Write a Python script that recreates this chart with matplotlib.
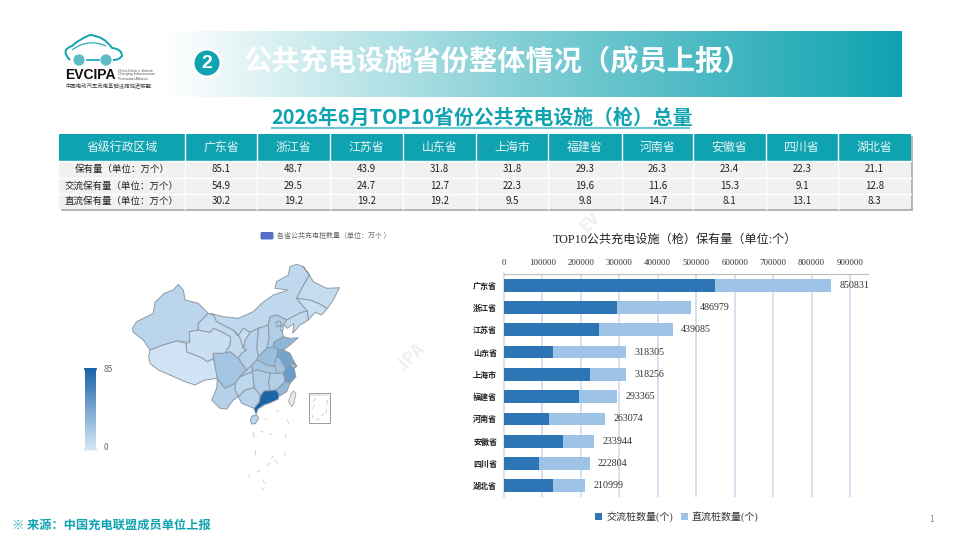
import matplotlib
matplotlib.use('Agg')
import matplotlib.pyplot as plt
import numpy as np
from matplotlib.colors import LinearSegmentedColormap, Normalize
from matplotlib.patches import Circle, FancyBboxPatch, PathPatch, Polygon, Rectangle
from matplotlib.path import Path

plt.rcParams['font.family'] = ['Noto Sans CJK SC', 'DejaVu Sans']

# table data
provinces = ['广东省', '浙江省', '江苏省', '山东省', '上海市', '福建省', '河南省', '安徽省', '四川省', '湖北省']
row_names = ['保有量（单位：万个）', '交流保有量（单位：万个）', '直流保有量（单位：万个）']
total_wan = [85.1, 48.7, 43.9, 31.8, 31.8, 29.3, 26.3, 23.4, 22.3, 21.1]
ac_wan = [54.9, 29.5, 24.7, 12.7, 22.3, 19.6, 11.6, 15.3, 9.1, 12.8]
dc_wan = [30.2, 19.2, 19.2, 19.2, 9.5, 9.8, 14.7, 8.1, 13.1, 8.3]

# bar data
ac_piles = [549000, 295000, 247000, 127000, 223000, 196000, 116000, 153000, 91000, 128000]
dc_piles = [301831, 191979, 192085, 191305, 95256, 97365, 147074, 80944, 131804, 82999]
total_piles = [850831, 486979, 439085, 318305, 318256, 293365, 263074, 233944, 222804, 210999]

# map values (万个), the ones outside the top 10 are estimated from the shade
map_values = {
    '新疆': 11, '西藏': 2, '青海': 4, '甘肃': 8, '内蒙古': 9, '黑龙江': 7, '吉林': 5, '辽宁': 8,
    '河北': 16, '北京': 14, '天津': 10, '山西': 12, '山东': 31.8, '河南': 26.3, '江苏': 43.9, '安徽': 23.4,
    '浙江': 48.7, '上海': 31.8, '福建': 29.3, '江西': 15, '湖北': 21.1, '湖南': 16, '广东': 85.1, '广西': 13,
    '贵州': 10, '云南': 14, '四川': 22.3, '重庆': 13, '陕西': 13, '宁夏': 5, '海南': 10,
}

# province outlines
map_outlines = {
    '新疆': [(187,310),(200,290),(250,265),(255,232),(283,205),(310,195),(325,178),(340,195),(345,225),(385,235),(415,265),(385,295),(385,315),(358,320),(360,352),(320,348),(280,360),(240,375),(220,345),(190,322)],
    '西藏': [(240,375),(280,360),(320,348),(348,355),(350,380),(395,398),(412,410),(430,400),(435,415),(442,460),(405,465),(375,480),(345,470),(300,450),(265,435),(240,415),(236,395)],
    '青海': [(358,320),(385,315),(420,322),(430,310),(450,318),(482,335),(480,360),(465,385),(430,385),(430,400),(412,410),(395,398),(350,380),(348,355),(360,352)],
    '甘肃': [(385,295),(415,265),(430,270),(440,290),(470,305),(490,315),(510,338),(520,370),(530,375),(515,385),(505,400),(480,380),(465,385),(480,360),(482,335),(450,318),(430,310),(420,322),(385,315)],
    '内蒙古': [(420,265),(460,275),(505,280),(550,260),(575,235),(610,210),(655,195),(615,190),(620,170),(655,150),(660,125),(680,118),(700,125),(718,150),(690,200),(680,220),(712,258),(695,262),(650,285),(620,270),(600,275),(595,300),(565,310),(540,322),(520,310),(505,332),(490,315),(470,305),(440,290),(430,270)],
    '黑龙江': [(700,125),(718,150),(730,170),(770,190),(808,188),(790,225),(772,250),(745,235),(720,225),(680,220),(690,200),(718,150)],
    '吉林': [(680,220),(720,225),(745,235),(772,250),(755,270),(735,262),(715,285),(712,258)],
    '辽宁': [(650,285),(695,262),(712,258),(715,285),(690,300),(668,325),(672,295),(652,310),(640,298)],
    '河北': [(595,300),(600,275),(620,270),(650,285),(640,298),(637,320),(640,335),(612,352),(610,365),(590,370),(597,340)],
    '北京': [(618,290),(630,288),(634,300),(622,306)],
    '天津': [(634,300),(640,306),(637,320),(630,314)],
    '山西': [(565,310),(595,300),(597,340),(590,370),(565,395),(560,370)],
    '山东': [(612,352),(640,335),(660,340),(685,338),(660,360),(640,375),(625,375),(610,365)],
    '河南': [(565,395),(590,370),(610,365),(625,375),(620,395),(615,425),(590,420),(560,405)],
    '江苏': [(640,375),(660,385),(672,410),(675,422),(660,415),(648,430),(640,420),(630,400),(620,395),(625,375)],
    '安徽': [(620,395),(630,400),(640,420),(648,430),(640,445),(620,445),(612,425)],
    '浙江': [(648,430),(660,415),(672,430),(678,455),(660,475),(645,470),(640,445)],
    '上海': [(672,410),(681,424),(672,430),(675,422)],
    '福建': [(645,470),(660,475),(650,500),(625,515),(618,495)],
    '江西': [(600,445),(620,445),(640,445),(645,470),(618,495),(600,497),(595,470)],
    '湖北': [(545,420),(560,405),(590,420),(615,425),(620,445),(600,445),(560,435),(547,440)],
    '湖南': [(547,440),(560,435),(600,445),(595,470),(600,497),(570,510),(552,488)],
    '广东': [(570,515),(582,498),(600,497),(618,495),(627,507),(625,522),(604,532),(582,540),(564,552),(558,568),(552,550),(568,530)],
    '广西': [(505,515),(525,495),(552,488),(570,510),(570,515),(568,530),(552,550),(515,535)],
    '贵州': [(495,475),(510,455),(547,440),(552,488),(525,495),(505,515),(495,495)],
    '云南': [(442,460),(465,490),(495,475),(495,495),(505,515),(490,525),(470,552),(450,550),(425,525),(440,490)],
    '四川': [(430,385),(465,385),(480,380),(505,400),(530,435),(510,455),(495,475),(465,490),(442,460),(432,405)],
    '重庆': [(510,455),(530,435),(545,420),(547,440)],
    '陕西': [(520,370),(525,345),(540,322),(565,310),(560,370),(565,395),(560,405),(545,420),(530,435),(505,400),(515,385),(530,375)],
    '宁夏': [(490,315),(505,332),(520,310),(540,322),(525,345),(520,370),(510,338)],
    '海南': [(541,585),(547,573),(560,570),(566,580),(556,596),(545,597)],
}
taiwan = [(670,498),(678,505),(672,535),(665,545),(656,530),(662,508)]
south_sea_dashes = [((549,622),(553,637)), ((647,625),(648,638)), ((652,585),(657,598)), ((646,680),(643,693)),
                    ((557,677),(556,690)), ((537,748),(538,760)), ((575,790),(582,794)), ((572,618),(582,622)),
                    ((598,625),(604,630)), ((612,692),(604,700)), ((578,765),(584,775)), ((560,742),(570,736)),
                    ((590,725),(600,712)), ((615,705),(622,715)), ((585,585),(590,580)), ((620,555),(625,560))]
inset_dashes = [((730,530),(737,520)), ((727,552),(733,540)), ((770,540),(772,525)), ((768,565),(770,552)),
                ((755,572),(762,565)), ((738,583),(748,582)), ((727,572),(730,580))]

teal = '#0fa3b1'
fig = plt.figure(figsize=(9.6, 5.4), dpi=100, facecolor='white')

# one axes in picture pixels for everything that is not the bar chart
bg = fig.add_axes([0, 0, 1, 1])

# banner
grad = np.linspace(0, 1, 256).reshape(1, -1)
banner_cmap = LinearSegmentedColormap.from_list('banner', ['#ffffff', '#7fcdd4', teal])
bg.imshow(grad, extent=(165, 902, 97, 31), cmap=banner_cmap, aspect='auto', zorder=1)
bg.add_patch(Circle((207, 63), 15, fc='white', ec='none', zorder=2))
bg.add_patch(Circle((207, 63), 12.5, fc=teal, ec='none', zorder=3))
bg.text(207, 63, '2', color='white', fontsize=14, fontweight='bold', family='Liberation Sans', ha='center', va='center', zorder=4)
bg.text(244, 62, '公共充电设施省份整体情况（成员上报）', color='white', fontsize=20.3, fontweight='bold',
        ha='left', va='center', zorder=4)

# logo
car = Path([(70, 60), (60, 50), (72, 46), (78, 40), (90, 35), (104, 36), (112, 48), (122, 49), (122, 56), (119, 60), (113, 60)],
           [Path.MOVETO, Path.CURVE3, Path.LINETO, Path.CURVE3, Path.CURVE3, Path.CURVE3, Path.LINETO, Path.CURVE3, Path.LINETO, Path.CURVE3, Path.LINETO])
bg.add_patch(PathPatch(car, fc='none', ec=teal, lw=1.4, zorder=2))
car2 = Path([(72, 50), (88, 38), (106, 46)], [Path.MOVETO, Path.CURVE3, Path.LINETO])
bg.add_patch(PathPatch(car2, fc='none', ec=teal, lw=0.8, zorder=2))
bg.add_patch(Circle((79, 60), 6, fc='#5bbcc6', ec='white', lw=0.5, zorder=3))
bg.add_patch(Circle((106, 60), 6, fc='#5bbcc6', ec='white', lw=0.5, zorder=3))
bg.plot([87, 99], [60, 60], color=teal, lw=1.2, zorder=2)
bg.text(65, 75, 'EVCIPA', color='#111111', fontsize=10, fontweight='bold', family='Liberation Sans', va='center', ha='left')
for yy, tt in zip([70.5, 74.5, 78.5], ['China Electric Vehicle', 'Charging Infrastructure', 'Promotion Alliance']):
    bg.text(118, yy, tt, color='#555555', fontsize=2.6, family='Liberation Sans', va='center', ha='left')
bg.text(65, 86, '中国电动汽车充电基础设施促进联盟', color='#444444', fontsize=3.9, va='center', ha='left')

# watermarks
for xx, yy, tt in [(411, 357, '.IPA'), (590, 222, 'EV')]:
    bg.text(xx, yy, tt, color='#efefef', fontsize=12, fontweight='bold', rotation=45, ha='center', va='center', zorder=0)

# heading of the table
bg.text(271, 117, '2026年6月TOP10省份公共充电设施（枪）总量', color=teal, fontsize=14.3, fontweight='bold', ha='left', va='center')
bg.plot([271, 690], [127.5, 127.5], color='#6fc6cf', lw=1.6, solid_capstyle='butt')

# table
col_x = [59, 185, 257, 330, 403, 476, 548, 622, 693, 766, 838, 911]
row_y = [134, 161, 178, 194, 209]
bg.add_patch(Rectangle((61, 136), 852, 75, fc='#b5b5b5', ec='none', zorder=1))
bg.add_patch(Rectangle((59, 134), 852, 75, fc='#f1f1f1', ec='none', zorder=2))
bg.add_patch(Rectangle((59, 134), 852, 27, fc=teal, ec='none', zorder=2))
for xx in col_x[1:-1]:
    bg.plot([xx, xx], [134, 209], color='white', lw=1, zorder=3)
for yy in row_y[1:-1]:
    bg.plot([59, 911], [yy, yy], color='white', lw=1, zorder=3)
bg.text((col_x[0] + col_x[1]) / 2, 147.5, '省级行政区域', color='#e8f6f7', fontsize=8.6, ha='center', va='center', zorder=4)
for i, name in enumerate(provinces):
    bg.text((col_x[i + 1] + col_x[i + 2]) / 2, 147.5, name, color='#e8f6f7', fontsize=8.6, ha='center', va='center', zorder=4)
for r, (name, row) in enumerate(zip(row_names, [total_wan, ac_wan, dc_wan])):
    yc = (row_y[r + 1] + row_y[r + 2]) / 2
    bg.text((col_x[0] + col_x[1]) / 2, yc, name, color='#222222', fontsize=6.8, ha='center', va='center', zorder=4)
    for i, v in enumerate(row):
        bg.text((col_x[i + 1] + col_x[i + 2]) / 2, yc, f'{v:.1f}', color='#222222', fontsize=7, ha='center', va='center', zorder=4)

# map, zoom coordinates to picture pixels
def to_px(pts):
    return [(70 + x / 3, 225 + y / 3) for x, y in pts]

map_cmap = LinearSegmentedColormap.from_list('map', ['#d3e6f6', '#1c64a8'])
norm = Normalize(0, 85)
for name, pts in map_outlines.items():
    bg.add_patch(Polygon(to_px(pts), closed=True, fc=map_cmap(norm(map_values[name])), ec='#8e9aa6', lw=0.7, zorder=2))
bg.add_patch(Polygon(to_px(taiwan), closed=True, fc='#e8e8e8', ec='#9a9a9a', lw=0.5, zorder=2))
bg.add_patch(Rectangle((70 + 718 / 3, 225 + 505 / 3), 62 / 3, 89 / 3, fc='white', ec='#9a9a9a', lw=0.7, zorder=2))
bg.add_patch(Rectangle((70 + 720 / 3, 225 + 506 / 3), 58 / 3, 8 / 3, fc='#e8e8e8', ec='none', zorder=2))
for a, b in south_sea_dashes + inset_dashes:
    p = to_px([a, b])
    bg.plot([p[0][0], p[1][0]], [p[0][1], p[1][1]], color='#b5b5b5', lw=0.4, zorder=2)

# map legend and colour scale
bg.add_patch(FancyBboxPatch((260.5, 232), 13, 7.5, boxstyle='round,pad=0,rounding_size=1.5', fc='#5470c6', ec='none', zorder=2))
bg.text(277, 235.8, '各省公共充电桩数量（单位：万个 ）', color='#666666', fontsize=5.0, ha='left', va='center')
bg.imshow(np.linspace(1, 0, 128).reshape(-1, 1), extent=(85, 96, 448, 369), cmap=map_cmap, aspect='auto', zorder=1)
bg.add_patch(FancyBboxPatch((84, 368), 13, 2.4, boxstyle='round,pad=0,rounding_size=1', fc='#1c64a8', ec='none', zorder=2))
bg.add_patch(FancyBboxPatch((84, 448), 13, 2.4, boxstyle='round,pad=0,rounding_size=1', fc='#d3e6f6', ec='none', zorder=2))
bg.text(104, 369, '85', color='#666666', fontsize=6, ha='left', va='center')
bg.text(104, 448, '0', color='#666666', fontsize=6, ha='left', va='center')

# footer
bg.text(12, 525, '※ 来源：中国充电联盟成员单位上报', color=teal, fontsize=8.8, fontweight='bold', ha='left', va='center')
bg.text(932, 519, '1', color='#888888', fontsize=6, ha='center', va='center')

bg.set_xlim(0, 960)
bg.set_ylim(540, 0)
bg.axis('off')

# stacked bars, real axes
serif = ['Liberation Serif', 'Noto Sans CJK SC']
ax = fig.add_axes([504 / 960, (540 - 497) / 540, 364 / 960, 223 / 540], facecolor='none')
y = np.arange(len(provinces))
ac_bars = ax.barh(y, ac_piles, height=0.57, color='#2e75b6', label='交流桩数量(个)', zorder=3)
dc_bars = ax.barh(y, dc_piles, left=ac_piles, height=0.57, color='#9dc3e6', label='直流桩数量(个)', zorder=3)
ax.bar_label(dc_bars, labels=[str(t) for t in total_piles], padding=6, fontsize=7.2, color='#333333', family=serif)
ax.set_xlim(0, 946800)
ax.set_ylim(len(provinces) - 0.5, -0.5)
ax.set_xticks(np.arange(0, 900001, 100000))
ax.set_yticks(y, provinces)
ax.xaxis.tick_top()
ax.tick_params(axis='x', length=0, pad=5, labelsize=6.4, labelcolor='#333333')
ax.tick_params(axis='y', length=0, pad=5, labelsize=5.8, labelcolor='#222222')
for lab in ax.get_xticklabels():
    lab.set_family(serif)
for lab in ax.get_yticklabels():
    lab.set_fontweight('bold')
ax.grid(axis='x', color='#d5e0f0', lw=1.4, zorder=0)
for s in ['right', 'bottom']:
    ax.spines[s].set_visible(False)
ax.spines['left'].set_color('#e2e2e2')
ax.spines['left'].set_linewidth(1.5)
ax.spines['top'].set_color('#bdbdbd')
ax.spines['top'].set_linewidth(0.8)
fig.text(675 / 960, (540 - 239.5) / 540, 'TOP10公共充电设施（枪）保有量（单位:个）', family=serif, fontsize=8.7,
         color='#222222', ha='center', va='center')
fig.legend(handles=[ac_bars, dc_bars], loc='center', bbox_to_anchor=(677 / 960, (540 - 517) / 540), ncol=2, frameon=False,
           prop={'family': serif, 'size': 7.2}, handlelength=0.7, handleheight=0.7, handletextpad=0.4, columnspacing=0.8,
           labelcolor='#333333')

fig.savefig('out.png', dpi=100)
